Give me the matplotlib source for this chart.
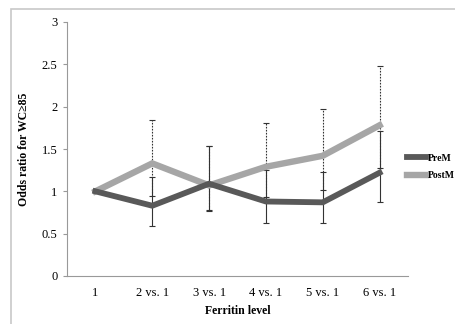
import matplotlib
matplotlib.use('Agg')
import matplotlib.pyplot as plt
from matplotlib.patches import Rectangle
import numpy as np

# 数据
levels = ['1', '2 vs. 1', '3 vs. 1', '4 vs. 1', '5 vs. 1', '6 vs. 1']
prem_or = [1.0, 0.83, 1.09, 0.88, 0.87, 1.22]
prem_lo = [1.0, 0.59, 0.77, 0.63, 0.63, 0.87]
prem_hi = [1.0, 1.17, 1.53, 1.25, 1.23, 1.71]
postm_or = [1.0, 1.33, 1.07, 1.29, 1.42, 1.78]
postm_lo = [1.0, 0.94, 0.78, 0.93, 1.01, 1.28]
postm_hi = [1.0, 1.84, 1.54, 1.81, 1.97, 2.48]
yticks = [0, 0.5, 1, 1.5, 2, 2.5, 3]

plt.rcParams['font.family'] = ['Liberation Serif', 'DejaVu Serif']

fig = plt.figure(figsize=(4.56, 3.24), dpi=100)
fig.patch.set_facecolor('white')

# 外框
fig.patches.append(Rectangle((11 / 456, -0.1), 1.0, 1 - 9 / 324 + 0.1,
                             transform=fig.transFigure, fill=False,
                             edgecolor='#c8c8c8', linewidth=1.2))

ax = fig.add_axes([67 / 456, 1 - 276 / 324, 341 / 456, 254 / 324])
x = np.arange(len(levels))

def errs(v, lo, hi):
    v, lo, hi = np.array(v), np.array(lo), np.array(hi)
    return np.vstack([v - lo, hi - v])

# 误差线
eb1 = ax.errorbar(x[1:], np.array(postm_or)[1:], yerr=errs(postm_or, postm_lo, postm_hi)[:, 1:],
                  fmt='none', ecolor='#333333', elinewidth=0.8, capsize=2.5, capthick=0.8)
eb1[2][0].set_linestyle((0, (1.5, 1.2)))
ax.errorbar(x[1:], np.array(prem_or)[1:], yerr=errs(prem_or, prem_lo, prem_hi)[:, 1:],
            fmt='none', ecolor='#333333', elinewidth=0.8, capsize=2.5, capthick=0.8)

l1, = ax.plot(x, prem_or, color='#595959', linewidth=4.2, solid_joinstyle='miter', label='PreM')
l2, = ax.plot(x, postm_or, color='#a6a6a6', linewidth=4.6, solid_joinstyle='miter', label='PostM')
l1.set_zorder(3)
l2.set_zorder(2)

ax.set_xlim(-0.5, 5.5)
ax.set_ylim(0, 3)
ax.set_xticks(x)
ax.set_xticklabels(levels)
ax.set_yticks(yticks)
ax.set_yticklabels(['0', '0.5', '1', '1.5', '2', '2.5', '3'])
ax.tick_params(axis='x', length=0, labelsize=9, pad=8)
ax.tick_params(axis='y', length=3, width=0.8, color='#999999', labelsize=9, pad=4)
for s in ['top', 'right']:
    ax.spines[s].set_visible(False)
for s in ['left', 'bottom']:
    ax.spines[s].set_color('#999999')
    ax.spines[s].set_linewidth(0.8)

ax.set_xlabel('Ferritin level', fontsize=8.5, fontweight='bold', labelpad=4)
ax.set_ylabel('Odds ratio for WC\u226585', fontsize=8.5, fontweight='bold', labelpad=8,
              family=['Liberation Serif', 'DejaVu Serif'])

fig.legend(handles=[l1, l2], loc='center left', bbox_to_anchor=(407 / 456, 1 - 167 / 324),
           frameon=False, prop={'weight': 'bold', 'size': 7},
           handlelength=2.0, handletextpad=0.15, labelspacing=0.9,
           borderpad=0, borderaxespad=0)

fig.savefig('out.png', dpi=100)
